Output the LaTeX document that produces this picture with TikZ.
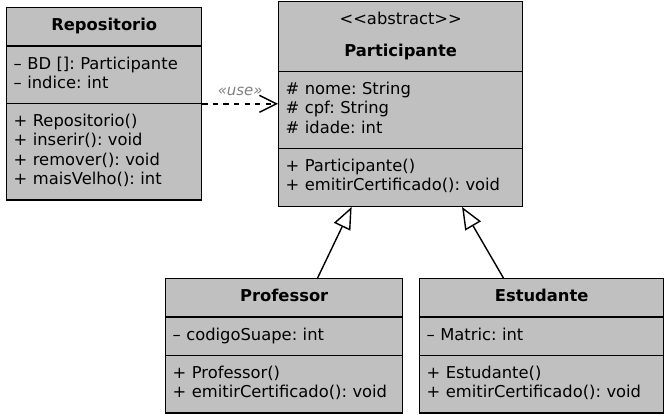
\documentclass[tikz,border=0pt]{standalone}
\usepackage{fontspec}
\setmainfont{DejaVu Sans}
\usetikzlibrary{shapes.multipart,arrows.meta,calc}
\definecolor{clsfill}{RGB}{192,192,192}
\definecolor{stereo}{RGB}{128,128,128}
\newcommand{\hdline}[1]{\hfill#1\hfill\strut}

\begin{document}
\frenchspacing
\begin{tikzpicture}[
    cls/.style={rectangle split, rectangle split parts=3, draw=black, fill=clsfill,
                line width=0.8pt, inner xsep=0.14cm, inner ysep=5pt, align=left,
                anchor=north west, font=\fontsize{9.3}{11}\selectfont\frenchspacing},
    dep/.style={dashed, line width=0.8pt,
                -{Straight Barb[length=0.34cm, width=0.34cm]}},
    inh/.style={line width=0.8pt, -{Triangle[open, length=0.44cm, width=0.36cm]}},
    lab/.style={font=\fontsize{8.5}{10}\selectfont\itshape, color=stereo}]
  \useasboundingbox (0,0) rectangle (13.44,8.32);
  \node[cls, text width=3.62cm] (repo) at (0.12,8.18)
    {\hdline{\textbf{Repositorio}}
     \nodepart{second}– BD []: Participante\strut\\– indice: int\strut
     \nodepart{third}+ Repositorio()\strut\\+ inserir(): void\strut\\
       + remover(): void\strut\\+ maisVelho(): int\strut};
  \node[cls, text width=4.60cm] (part) at (5.56,8.30)
    {\hdline{<{}<abstract>{}>}\\[7pt]\hdline{\textbf{Participante}}
     \nodepart{second}\# nome: String\strut\\\# cpf: String\strut\\\# idade: int\strut
     \nodepart{third}+ Participante()\strut\\+ emitirCertificado(): void\strut};
  \node[cls, text width=4.46cm] (prof) at (3.30,2.76)
    {\hdline{\textbf{Professor}}
     \nodepart{second}– codigoSuape: int\strut
     \nodepart{third}+ Professor()\strut\\+ emitirCertificado(): void\strut};
  \node[cls, text width=4.60cm] (estu) at (8.38,2.76)
    {\hdline{\textbf{Estudante}}
     \nodepart{second}– Matric: int\strut
     \nodepart{third}+ Estudante()\strut\\+ emitirCertificado(): void\strut};
  % dependencia
  \draw[dep] (repo.east) -- (repo.east -| part.west)
        node[midway, above=1pt, lab] {«use»};
  % heranca
  \draw[inh] ($(prof.north west)!.64!(prof.north east)$)
          -- ($(part.south west)!.30!(part.south east)$);
  \draw[inh] ($(estu.north west)!.344!(estu.north east)$)
          -- ($(part.south west)!.75!(part.south east)$);
\end{tikzpicture}
\end{document}
